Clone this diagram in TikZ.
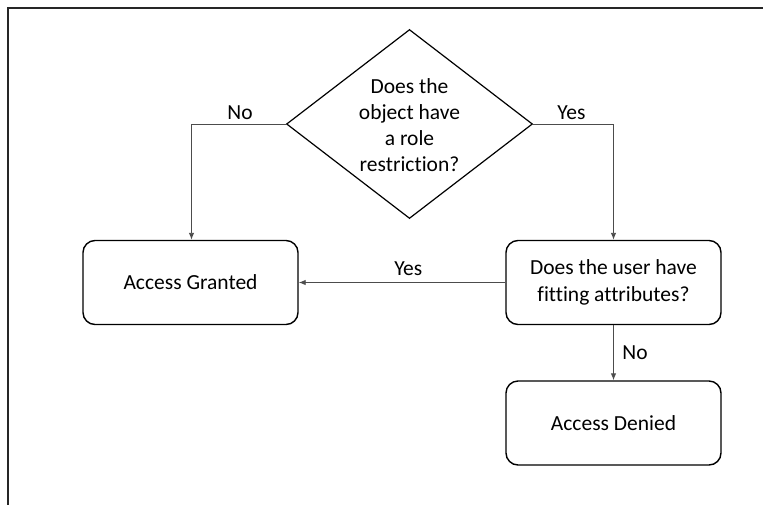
\documentclass[tikz,border=0pt]{standalone}
\usepackage{fontspec}
\setmainfont{Carlito}[Ligatures={NoCommon}]
\usetikzlibrary{shapes.geometric,arrows.meta}
\tikzset{
  box/.style={draw=black, line width=1.4pt, rounded corners=12pt, minimum width=215pt, minimum height=84pt, inner sep=0pt, align=center, font=\fontsize{21.5pt}{26.5pt}\selectfont},
  decision/.style={draw=black, line width=1.2pt, shape=diamond, minimum width=246pt, minimum height=189pt, inner sep=0pt},
  txt/.style={inner sep=0pt, align=center, font=\fontsize{21.5pt}{26.2pt}\selectfont},
  lbl/.style={inner sep=0pt, font=\fontsize{21.5pt}{26pt}\selectfont},
  conn/.style={draw=black!70, line width=0.9pt, -{Latex[length=7pt,width=5.5pt]}},
  frame/.style={draw=black!85, line width=2pt}
}
\begin{document}
\begin{tikzpicture}[x=1pt,y=-1pt]
\useasboundingbox (0,0) rectangle (763,504);
\draw[frame] (8,510) -- (8,8) -- (770,8);
\node[decision] (d) at (409.5,124) {};
\node[txt] (dt) at (409.5,125) {Does the\\object have\\a role\\restriction?};
\node[box] (ag) at (190.5,282.5) {Access Granted};
\node[box] (q) at (613.5,282.5) {Does the user have\\fitting attributes?};
\node[box] (ad) at (613.5,423) {Access Denied};
\coordinate (cl) at (191.5,124);
\coordinate (cr) at (613.5,124);
\draw[conn] (d.west) -- (cl) -- (ag.north -| cl);
\draw[conn] (d.east) -- (cr) -- (q.north);
\draw[conn] (q.west) -- (ag.east);
\draw[conn] (q.south) -- (ad.north);
\node[lbl] (lno1) at (240,112.5) {No};
\node[lbl] (lyes1) at (571.5,112.5) {Yes};
\node[lbl] (lyes2) at (408.3,268.3) {Yes};
\node[lbl] (lno2) at (635,352.5) {No};
\end{tikzpicture}
\end{document}
